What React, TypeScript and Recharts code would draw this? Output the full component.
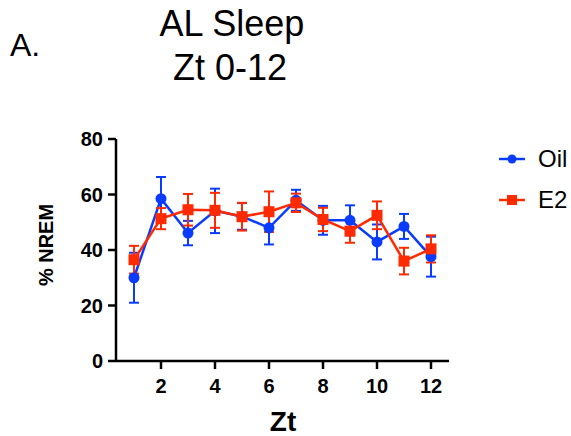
import React from 'react';
import { LineChart, Line, XAxis, YAxis, ErrorBar, Legend } from 'recharts';

const zt = [1, 2, 3, 4, 5, 6, 7, 8, 9, 10, 11, 12];
const oilMean = [30.0, 58.5, 46.1, 54.1, 52.1, 48.0, 57.9, 50.7, 50.7, 42.9, 48.5, 37.6];
const oilSem = [9.0, 7.8, 4.4, 8.0, 4.8, 6.0, 3.8, 5.2, 5.4, 6.3, 4.5, 7.2];
const e2Mean = [36.5, 51.3, 54.5, 54.3, 52.0, 53.8, 57.0, 51.0, 46.8, 52.5, 36.0, 40.4];
const e2Sem = [5.0, 3.8, 5.7, 6.3, 5.0, 7.3, 3.3, 4.2, 4.2, 5.0, 4.8, 4.9];
const xTicks = [2, 4, 6, 8, 10, 12];
const yTicks = [0, 20, 40, 60, 80];

const BLUE = '#0a3cff';
const RED = '#ff2a00';
const FONT = '"Liberation Sans", Arial, Helvetica, sans-serif';

const data = zt.map((z, i) => ({
  zt: z,
  oil: oilMean[i],
  oilErr: oilSem[i],
  e2: e2Mean[i],
  e2Err: e2Sem[i],
}));

const SquareDot = (props: any) => {
  const { cx, cy } = props;
  if (cx == null || cy == null) return null;
  return <rect x={cx - 5.5} y={cy - 5.5} width={11} height={11} fill={RED} />;
};

const CircleDot = (props: any) => {
  const { cx, cy } = props;
  if (cx == null || cy == null) return null;
  return <circle cx={cx} cy={cy} r={5.5} fill={BLUE} />;
};

const LegendContent = () => {
  const items = [
    { name: 'Oil', color: BLUE, shape: 'circle' },
    { name: 'E2', color: RED, shape: 'square' },
  ];
  return (
    <div style={{ fontFamily: FONT }}>
      {items.map((it) => (
        <div key={it.name} style={{ display: 'flex', alignItems: 'center', height: 41 }}>
          <svg width={28} height={14} style={{ marginRight: 12 }}>
            <line x1={1} y1={7} x2={27} y2={7} stroke={it.color} strokeWidth={2.5} />
            {it.shape === 'circle' ? (
              <circle cx={14} cy={7} r={4.5} fill={it.color} />
            ) : (
              <rect x={9} y={2} width={10} height={10} fill={it.color} />
            )}
          </svg>
          <span style={{ fontSize: 24, lineHeight: '24px', color: '#000' }}>{it.name}</span>
        </div>
      ))}
    </div>
  );
};

export default function App() {
  const tickStyle = { fill: '#000', fontSize: 20, fontWeight: 700, fontFamily: FONT };
  return (
    <div style={{ position: 'absolute', left: 0, top: 0, width: 571, height: 436, background: '#fff' }}>
      <LineChart
        width={571}
        height={436}
        data={data}
        margin={{ top: 139, right: 122, bottom: 45, left: 56 }}
      >
        <XAxis
          dataKey="zt"
          type="number"
          domain={[1 / 3, 12 + 2 / 3]}
          ticks={xTicks}
          height={30}
          tickSize={8}
          tickMargin={10}
          axisLine={{ stroke: '#000', strokeWidth: 2.5 }}
          tickLine={{ stroke: '#000', strokeWidth: 2.5 }}
          tick={tickStyle}
          allowDataOverflow
        />
        <YAxis
          type="number"
          domain={[0, 80]}
          ticks={yTicks}
          width={60}
          tickSize={8}
          tickMargin={5}
          axisLine={{ stroke: '#000', strokeWidth: 2.5 }}
          tickLine={{ stroke: '#000', strokeWidth: 2.5 }}
          tick={tickStyle}
        />
        <Legend
          layout="horizontal"
          verticalAlign="middle"
          align="center"
          content={<LegendContent />}
          wrapperStyle={{ left: 498, top: 138, width: 80, height: 82 }}
        />
        <Line
          type="linear"
          dataKey="oil"
          name="Oil"
          stroke={BLUE}
          strokeWidth={2.5}
          dot={<CircleDot />}
          activeDot={false}
          isAnimationActive={false}
        >
          <ErrorBar dataKey="oilErr" width={5} stroke={BLUE} strokeWidth={2} direction="y" />
        </Line>
        <Line
          type="linear"
          dataKey="e2"
          name="E2"
          stroke={RED}
          strokeWidth={2.5}
          dot={<SquareDot />}
          activeDot={false}
          isAnimationActive={false}
        >
          <ErrorBar dataKey="e2Err" width={5} stroke={RED} strokeWidth={2} direction="y" />
        </Line>
      </LineChart>
      <svg
        width={571}
        height={436}
        style={{ position: 'absolute', left: 0, top: 0, pointerEvents: 'none' }}
      >
        <text x={10} y={56} fontSize={32} fontFamily={FONT} fill="#000">A.</text>
        <text x={232} y={36} fontSize={36} fontFamily={FONT} fill="#000" textAnchor="middle">AL Sleep</text>
        <text x={230} y={80} fontSize={36} fontFamily={FONT} fill="#000" textAnchor="middle">Zt 0-12</text>
        <text x={283} y={431} fontSize={28} fontWeight={700} fontFamily={FONT} fill="#000" textAnchor="middle">Zt</text>
        <text
          x={0}
          y={0}
          fontSize={20}
          fontWeight={700}
          fontFamily={FONT}
          fill="#000"
          textAnchor="middle"
          transform="translate(53,245) rotate(-90)"
        >
          % NREM
        </text>
      </svg>
    </div>
  );
}
